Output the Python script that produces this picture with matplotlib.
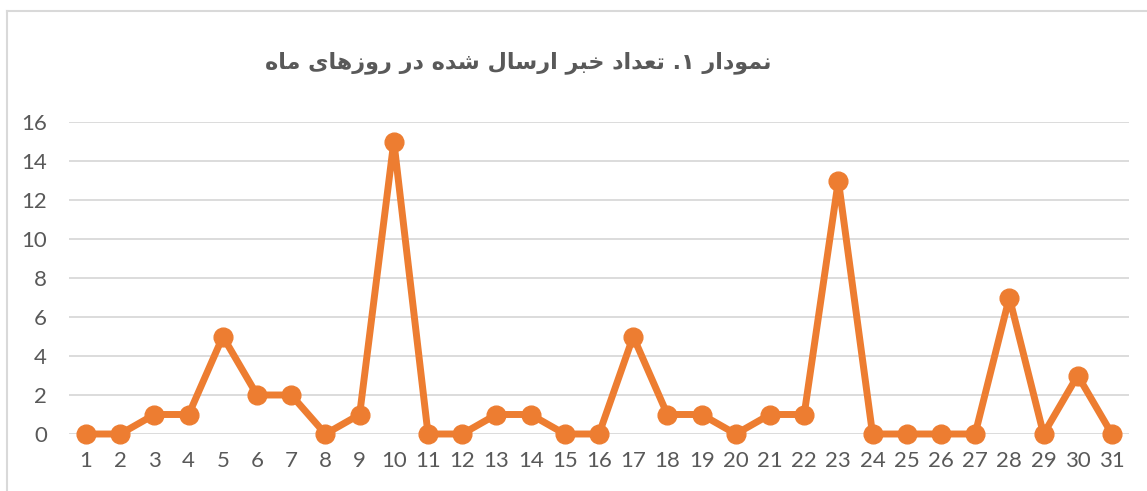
import matplotlib
matplotlib.use("Agg")
import matplotlib.pyplot as plt
from matplotlib.lines import Line2D

# data
days = list(range(1, 32))
counts = [0, 0, 1, 1, 5, 2, 2, 0, 1, 15, 0, 0, 1, 1, 0, 0, 5, 1, 1, 0,
          1, 1, 13, 0, 0, 0, 0, 7, 0, 3, 0]
y_ticks = [0, 2, 4, 6, 8, 10, 12, 14, 16]
title_text = "نمودار ۱. تعداد خبر ارسال شده در روزهای ماه"

ORANGE = "#ED7D31"
GREY = "#595959"
GRID = "#D9D9D9"

# minimal Arabic/Persian shaping (matplotlib has none): isol, final, init, medial
FORMS = {
    "ا": (0xFE8D, 0xFE8E, None, None),
    "ب": (0xFE8F, 0xFE90, 0xFE91, 0xFE92),
    "ت": (0xFE95, 0xFE96, 0xFE97, 0xFE98),
    "خ": (0xFEA5, 0xFEA6, 0xFEA7, 0xFEA8),
    "د": (0xFEA9, 0xFEAA, None, None),
    "ر": (0xFEAD, 0xFEAE, None, None),
    "ز": (0xFEAF, 0xFEB0, None, None),
    "س": (0xFEB1, 0xFEB2, 0xFEB3, 0xFEB4),
    "ش": (0xFEB5, 0xFEB6, 0xFEB7, 0xFEB8),
    "ع": (0xFEC9, 0xFECA, 0xFECB, 0xFECC),
    "ل": (0xFEDD, 0xFEDE, 0xFEDF, 0xFEE0),
    "م": (0xFEE1, 0xFEE2, 0xFEE3, 0xFEE4),
    "ن": (0xFEE5, 0xFEE6, 0xFEE7, 0xFEE8),
    "ه": (0xFEE9, 0xFEEA, 0xFEEB, 0xFEEC),
    "و": (0xFEED, 0xFEEE, None, None),
    "ی": (0xFEEF, 0xFEF0, 0xFEF3, 0xFEF4),
}


def shape(text):
    out = []
    for i, ch in enumerate(text):
        if ch not in FORMS:
            out.append(ch)
            continue
        prev = text[i - 1] if i > 0 else ""
        nxt = text[i + 1] if i + 1 < len(text) else ""
        f = FORMS[ch]
        join_prev = prev in FORMS and FORMS[prev][2] is not None
        join_next = f[2] is not None and nxt in FORMS
        if join_prev and join_next:
            out.append(chr(f[3]))
        elif join_prev:
            out.append(chr(f[1]))
        elif join_next:
            out.append(chr(f[2]))
        else:
            out.append(chr(f[0]))
    return "".join(out)[::-1]


W, H = 1147, 491
fig = plt.figure(figsize=(W / 100, H / 100), dpi=100)

# chart frame (cropped on the right and bottom)
fig.add_artist(Line2D([7 / W, 7 / W], [0, 1 - 11 / H], color=GRID, lw=1.5))
fig.add_artist(Line2D([7 / W, 1], [1 - 11 / H, 1 - 11 / H], color=GRID, lw=1.5))

ax = fig.add_axes([69 / W, 1 - 434 / H, (1129 - 69) / W, (434 - 122) / H])
ax.plot(days, counts, color=ORANGE, lw=5, marker="o", ms=13.5,
        solid_joinstyle="round", clip_on=False, zorder=3)

ax.set_xlim(0.5, 31.5)
ax.set_ylim(0, 16)
ax.set_yticks(y_ticks)
ax.set_xticks(days)
ax.grid(axis="y", color=GRID, lw=1.3)
ax.set_axisbelow(True)
for s in ax.spines.values():
    s.set_visible(False)
ax.tick_params(length=0, labelsize=16, labelcolor=GREY, pad=12)
ax.tick_params(axis="y", pad=16)
for lab in ax.get_xticklabels() + ax.get_yticklabels():
    lab.set_fontfamily("Lato")

fig.text(518 / W, 1 - 63 / H, shape(title_text), ha="center", va="center",
         fontsize=16, fontweight="bold", color=GREY, family="DejaVu Sans")

fig.savefig("out.png", dpi=100)
